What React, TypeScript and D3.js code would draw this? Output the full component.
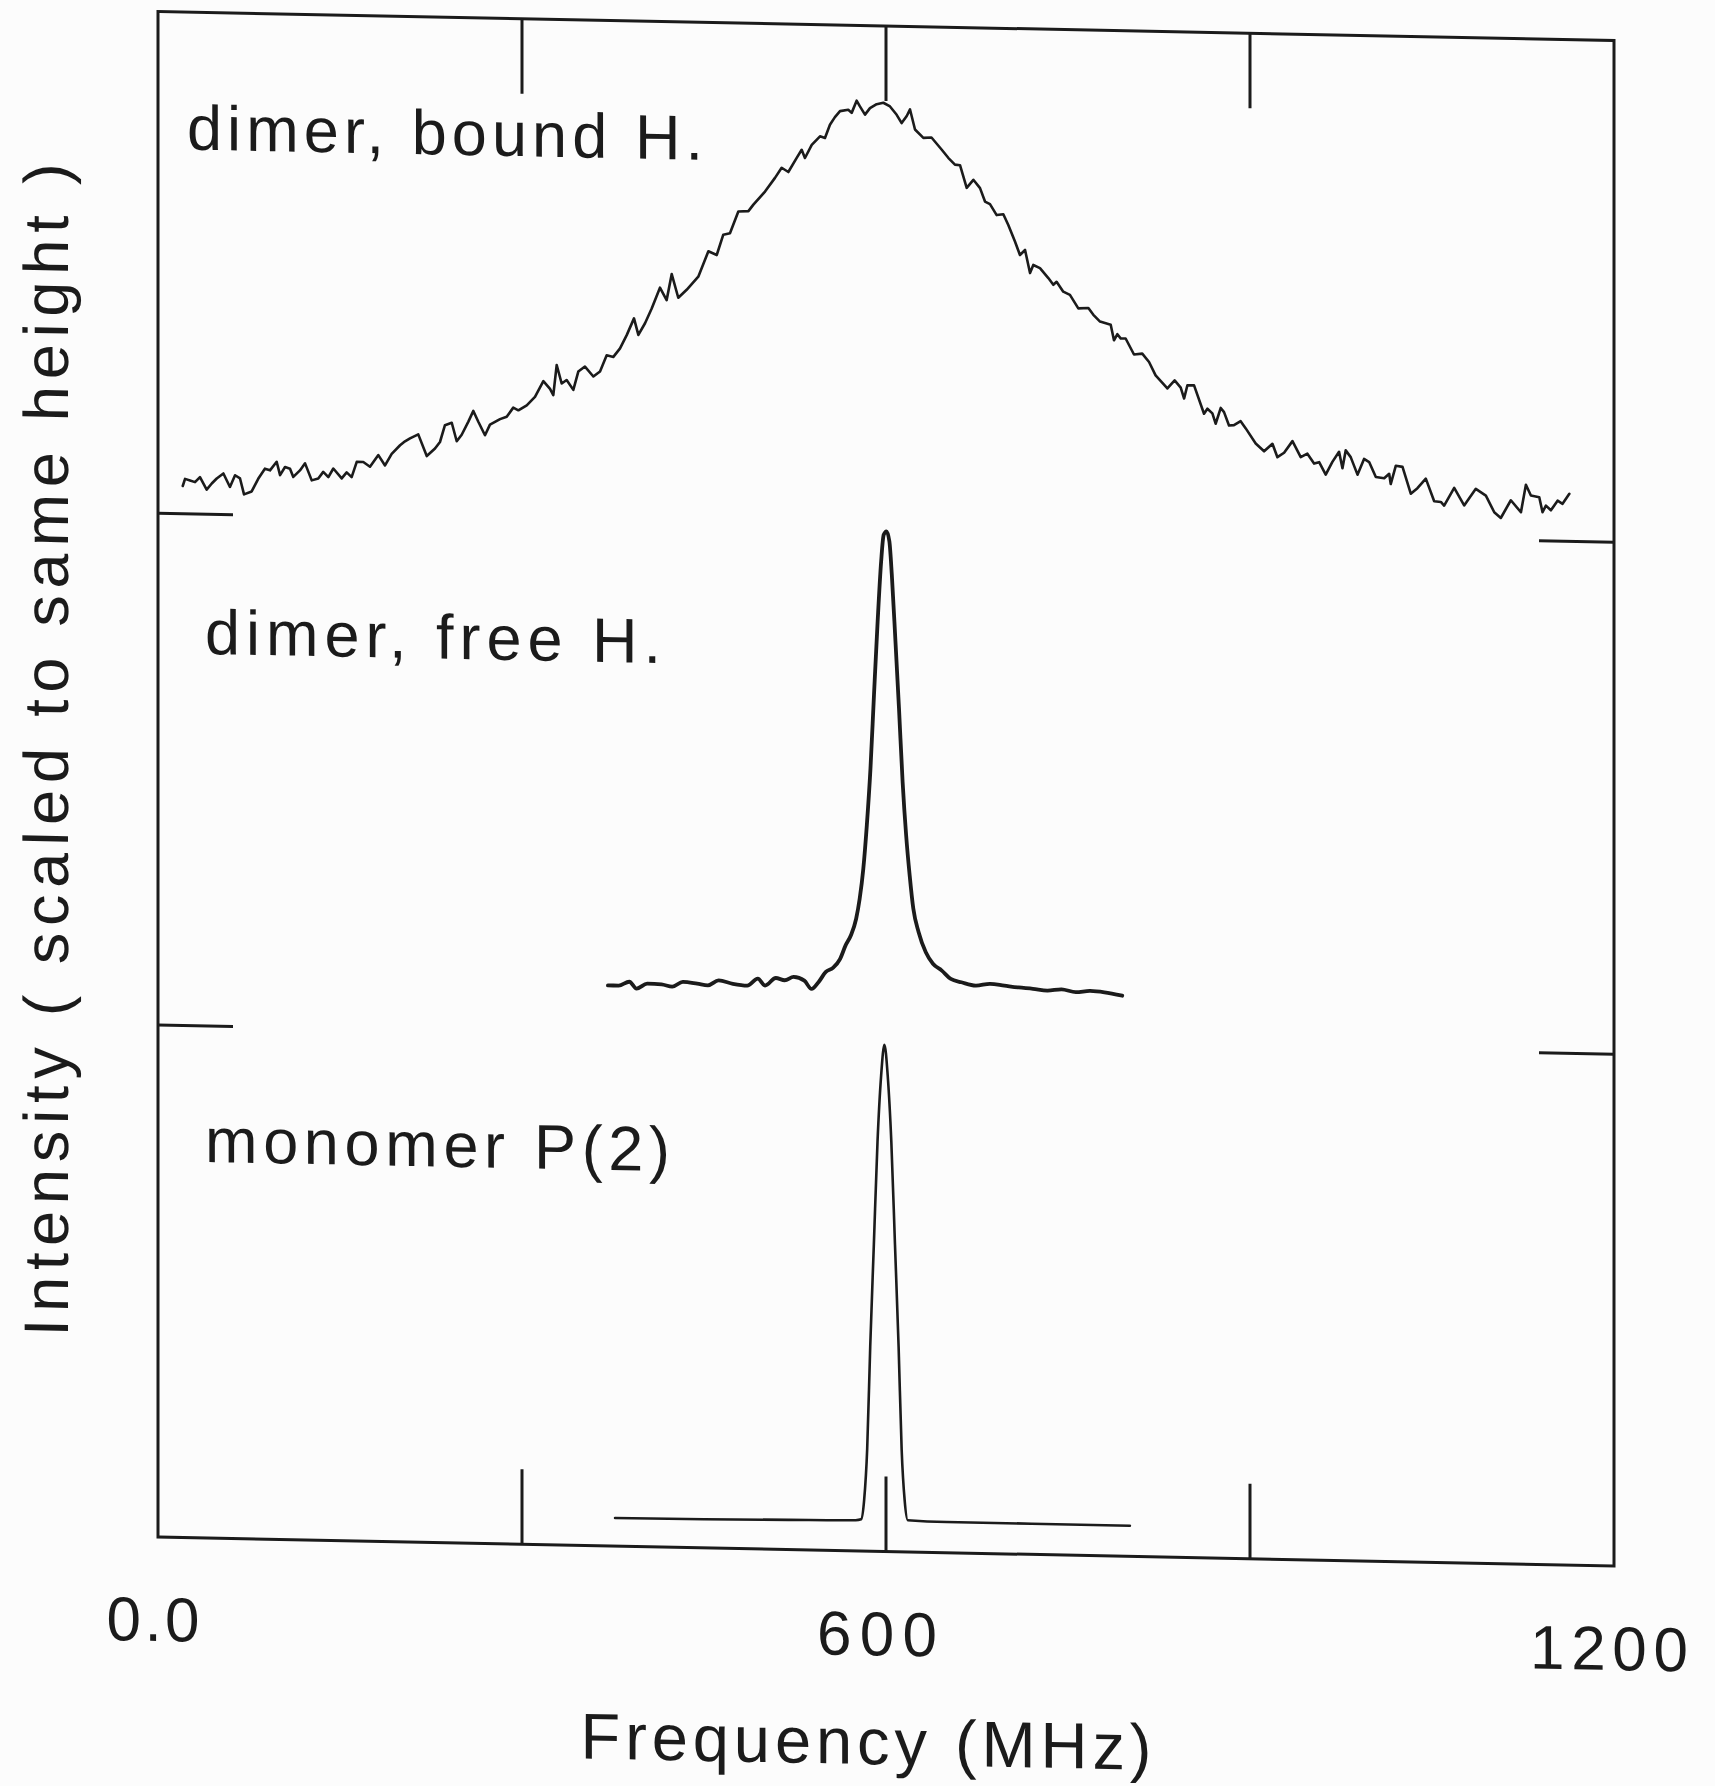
import React from "react";
import * as d3 from "d3";

// ---------- data ----------
// x: frequency in MHz, y: intensity (scaled), relative to each trace's offset
const boundH: [number, number][] = [
  [20.4,0.054],[22.3,0.068],[26.4,0.065],[30.5,0.062],[34.6,0.072],[40.1,0.048],[44.3,0.060],[48.4,0.070],[53.9,0.080],[59.3,0.054],
  [63.5,0.077],[67.6,0.071],[70.9,0.040],[77.2,0.046],[82.6,0.071],[88.1,0.091],[92.3,0.088],[97.8,0.105],[100.6,0.079],[104.7,0.095],
  [108.8,0.092],[111.5,0.076],[117,0.089],[121.2,0.103],[126.7,0.070],[132.1,0.074],[136.2,0.087],[140.4,0.077],[144.5,0.094],[151.4,0.075],
  [155.5,0.087],[159.6,0.078],[163.8,0.108],[169.2,0.108],[174.7,0.099],[181.6,0.122],[187.1,0.102],[192.6,0.125],[199.5,0.142],[203.6,0.150],
  [207.7,0.156],[214.5,0.164],[221.5,0.122],[228.3,0.137],[232.4,0.150],[236.5,0.183],[242.1,0.188],[246.2,0.152],[250.3,0.165],[255.8,0.191],
  [259.9,0.212],[264,0.191],[269.5,0.165],[273.6,0.186],[281.9,0.197],[287.4,0.202],[292.8,0.220],[297,0.215],[303.9,0.225],[310.7,0.242],
  [317.6,0.273],[323.1,0.258],[325.8,0.246],[328.6,0.305],[332.7,0.269],[336.8,0.276],[342.3,0.257],[346.4,0.293],[351.9,0.303],[358.8,0.284],
  [364.3,0.294],[369.8,0.326],[375.3,0.323],[380.8,0.340],[386.3,0.366],[392.3,0.399],[395.9,0.367],[401.4,0.390],[406.9,0.419],[413.7,0.460],
  [419.2,0.436],[423.4,0.487],[428.8,0.441],[435.7,0.457],[445.3,0.483],[453.6,0.533],[460.5,0.526],[465.9,0.566],[471.4,0.569],[478.3,0.612],
  [486.6,0.613],[490.7,0.626],[500.3,0.652],[508.5,0.679],[514,0.699],[519.5,0.691],[526.4,0.719],[530.5,0.735],[533.2,0.719],[538.8,0.745],
  [545.6,0.762],[549.7,0.759],[553.8,0.785],[557.9,0.800],[562.1,0.812],[568.9,0.815],[571.7,0.809],[575.8,0.833],[578.5,0.822],[582.7,0.806],
  [586.8,0.819],[592.3,0.827],[597.8,0.830],[603.3,0.823],[608.8,0.807],[612.9,0.791],[617.1,0.805],[619.8,0.818],[623.9,0.779],[630.8,0.763],
  [637.5,0.764],[645.8,0.741],[651.3,0.725],[656.8,0.712],[661,0.711],[666.5,0.667],[672,0.683],[677.5,0.667],[681.6,0.641],[685.7,0.636],
  [691.2,0.615],[696.7,0.617],[700.8,0.596],[706.3,0.564],[710.4,0.538],[714.6,0.548],[718.7,0.503],[721.4,0.519],[726.9,0.513],[733.8,0.494],
  [737.9,0.481],[740.6,0.487],[746.1,0.468],[751.6,0.462],[758.5,0.436],[766.8,0.437],[770.9,0.424],[776.4,0.411],[785.2,0.405],[787.9,0.375],
  [790.7,0.387],[793.4,0.379],[797.5,0.379],[804.4,0.348],[811.2,0.350],[816.8,0.334],[822.2,0.308],[831.9,0.283],[837.9,0.299],[842.9,0.285],
  [845.7,0.264],[848.4,0.290],[853.9,0.290],[862.1,0.235],[864.9,0.245],[869,0.236],[871.7,0.216],[875.9,0.247],[878.6,0.239],[882.7,0.213],
  [886.8,0.214],[892.3,0.222],[896.5,0.208],[904.7,0.179],[911.6,0.164],[918.5,0.179],[922.6,0.153],[928.1,0.162],[935,0.185],[941.8,0.154],
  [947.3,0.161],[952.8,0.142],[957,0.145],[962.4,0.121],[967.9,0.146],[973.4,0.166],[976.2,0.134],[978.9,0.169],[983,0.156],[988.6,0.122],
  [994,0.153],[998.2,0.147],[1003.7,0.118],[1010.6,0.116],[1014.7,0.125],[1016,0.105],[1020.2,0.141],[1025.7,0.139],[1032.5,0.087],[1038,0.098],
  [1044.9,0.117],[1051.8,0.073],[1057.3,0.072],[1060,0.065],[1068.3,0.100],[1076.5,0.066],[1086.1,0.099],[1094.4,0.086],[1101.3,0.054],[1106.7,0.043],
  [1115,0.078],[1123.3,0.055],[1127.4,0.109],[1131.5,0.088],[1138.4,0.085],[1141.1,0.056],[1143.9,0.069],[1148,0.060],[1153.5,0.079],[1157.6,0.073],
  [1163.2,0.093],
];

const freeH: [number, number][] = [
  [370.8,0.095],[379.6,0.095],[388.5,0.103],[394.4,0.090],[403.2,0.100],[415.0,0.099],[423.8,0.095],[432.6,0.105],[444.4,0.102],[453.2,0.099],
  [462.1,0.109],[473.8,0.103],[485.6,0.100],[494.4,0.114],[500.3,0.101],[509.2,0.116],[516.5,0.112],[523.9,0.119],[532.7,0.112],[538.6,0.096],
  [544.5,0.110],[550.4,0.130],[556.3,0.138],[562.2,0.156],[566.6,0.182],[571.0,0.202],[575.4,0.235],[578.3,0.274],[581.3,0.333],[584.2,0.418],
  [587.2,0.529],[590.1,0.673],[593.1,0.816],[596.0,0.934],[598.1,0.986],[600.4,0.993],[602.8,0.973],[604.8,0.908],[607.8,0.778],[610.7,0.648],
  [613.7,0.504],[616.6,0.400],[619.5,0.322],[622.5,0.257],[626.9,0.211],[632.8,0.172],[638.7,0.150],[646.0,0.137],[653.4,0.121],[662.2,0.115],
  [674.0,0.109],[685.8,0.113],[697.6,0.110],[709.3,0.107],[721.1,0.105],[732.9,0.102],[744.7,0.105],[756.4,0.100],[768.2,0.103],[780.0,0.101],
  [794.7,0.095],
];

const monomerP2: [number, number][] = [
  [376.7,0.055],[450,0.056],[520,0.058],[575,0.060],[579.5,0.062],[582,0.10],[584.5,0.20],[587,0.40],[590,0.60],[593,0.80],
  [596,0.93],[598.7,0.99],[601.4,0.93],[604.4,0.80],[607.4,0.60],[610.4,0.40],[612.9,0.20],[615.4,0.10],[617.9,0.062],[650,0.060],
  [720,0.060],[801,0.060],
];

const traceLabels = ["dimer, bound H.", "dimer, free H.", "monomer P(2)"];
const traceOffsets = [2, 1, 0];

const xTicks = [300, 600, 900];
const yTicks = [1, 2];
const xTickLabelValues = [0, 600, 1200];
const xTickLabels = ["0.0", "600", "1200"];
const xTitle = "Frequency (MHz)";
const yTitle = "Intensity ( scaled to same height )";

// ---------- layout ----------
const W = 1715;
const H = 1786;
const FONT = "'Liberation Sans', Arial, Helvetica, sans-serif";
const INK = "#1b1b1b";

export default function App() {
  const x = d3.scaleLinear().domain([0, 1200]).range([158, 1614]);
  const y = d3.scaleLinear().domain([0, 2.98]).range([1537, 11.5]);
  const [x0, x1] = x.range();
  const [y0, y1] = y.range(); // y0 bottom, y1 top
  const tickLen = 75;

  const series = [boundH, freeH, monomerP2];
  const strokeW = [2.6, 3.8, 2.6];
  const curves = [d3.curveLinear, d3.curveMonotoneX, d3.curveMonotoneX];

  const paths = series.map((data, i) =>
    d3
      .line<[number, number]>()
      .x((d) => x(d[0]))
      .y((d) => y(d[1] + traceOffsets[i]))
      .curve(curves[i])(data) || ""
  );

  // label placement (start x, baseline y, total width)
  const labelPos = [
    { x: 187, y: 149, len: 516 },
    { x: 205, y: 653, len: 456 },
    { x: 205, y: 1161, len: 465 },
  ];
  const tickLabelLen = [93, 120, 158];
  const tickLabelDx = [-5, -9, -5];

  const skew = 0.02;

  return (
    <svg
      width={W}
      height={H}
      viewBox={`0 0 ${W} ${H}`}
      style={{ position: "absolute", left: 0, top: 0, background: "#fcfcfc" }}
    >
      <rect x={0} y={0} width={W} height={H} fill="#fcfcfc" />
      <g transform={`matrix(1,${skew},0,1,0,${-skew * 160})`}>
        {/* frame */}
        <rect
          x={x0}
          y={y1}
          width={x1 - x0}
          height={y0 - y1}
          fill="none"
          stroke={INK}
          strokeWidth={3}
        />
        {/* x ticks top & bottom */}
        {xTicks.map((t) => (
          <g key={"xt" + t}>
            <line x1={x(t)} x2={x(t)} y1={y1} y2={y1 + tickLen} stroke={INK} strokeWidth={3} />
            <line x1={x(t)} x2={x(t)} y1={y0} y2={y0 - tickLen} stroke={INK} strokeWidth={3} />
          </g>
        ))}
        {/* y ticks left & right */}
        {yTicks.map((t) => (
          <g key={"yt" + t}>
            <line x1={x0} x2={x0 + tickLen} y1={y(t)} y2={y(t)} stroke={INK} strokeWidth={3} />
            <line x1={x1} x2={x1 - tickLen} y1={y(t)} y2={y(t)} stroke={INK} strokeWidth={3} />
          </g>
        ))}
        {/* spectra */}
        {paths.map((p, i) => (
          <path
            key={"s" + i}
            d={p}
            fill="none"
            stroke={INK}
            strokeWidth={strokeW[i]}
            strokeLinejoin="round"
            strokeLinecap="round"
          />
        ))}
        {/* trace labels */}
        {traceLabels.map((lab, i) => (
          <text
            key={"l" + i}
            x={labelPos[i].x}
            y={labelPos[i].y}
            fontFamily={FONT}
            fontSize={63}
            fill={INK}
            textLength={labelPos[i].len}
            lengthAdjust="spacing"
          >
            {lab}
          </text>
        ))}
        {/* x tick labels */}
        {xTickLabels.map((lab, i) => (
          <text
            key={"xl" + i}
            x={x(xTickLabelValues[i]) + tickLabelDx[i] - tickLabelLen[i] / 2}
            y={1641}
            fontFamily={FONT}
            fontSize={62}
            fill={INK}
            textLength={tickLabelLen[i]}
            lengthAdjust="spacing"
          >
            {lab}
          </text>
        ))}
        {/* axis titles */}
        <text
          x={866 - 571 / 2}
          y={1750}
          fontFamily={FONT}
          fontSize={65}
          fill={INK}
          textLength={571}
          lengthAdjust="spacing"
        >
          {xTitle}
        </text>
        <text
          transform={`translate(68,${752 + 1173 / 2}) rotate(-90)`}
          x={0}
          y={0}
          fontFamily={FONT}
          fontSize={63}
          fill={INK}
          textLength={1173}
          lengthAdjust="spacing"
        >
          {yTitle}
        </text>
      </g>
    </svg>
  );
}
